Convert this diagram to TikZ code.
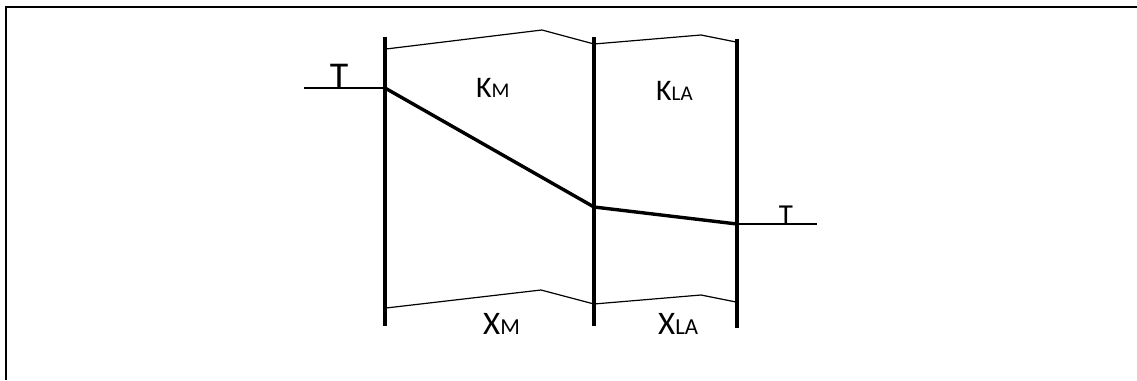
\documentclass[tikz,border=0pt]{standalone}
\usepackage{fontspec}
\setmainfont{Carlito}
\begin{document}
\begin{tikzpicture}[x=1bp,y=-1bp,
  frameline/.style={line width=2bp},
  wall/.style={line width=3.6bp},
  thinline/.style={line width=1.2bp},
  tline/.style={line width=2.4bp},
  curve/.style={line width=3.4bp, line join=round},
  lbl/.style={inner sep=0pt, anchor=base west},
  tlbl/.style={inner sep=0pt, anchor=base}]
\useasboundingbox (0,0) rectangle (1137,380);
% frame
\coordinate (fr) at (1137,7);
\coordinate (fc) at (6,7);
\coordinate (fb) at (6,380);
\draw[frameline] (fr) -- (fc) -- (fb);
% walls
\coordinate (w1t) at (385,37); \coordinate (w1b) at (385,326);
\coordinate (w2t) at (594,37); \coordinate (w2b) at (594,326);
\coordinate (w3t) at (737,39); \coordinate (w3b) at (737,328);
\draw[wall] (w1t) -- (w1b);
\draw[wall] (w2t) -- (w2b);
\draw[wall] (w3t) -- (w3b);
% top outline
\coordinate (t1) at (386,49); \coordinate (t2) at (542,30);
\coordinate (t3) at (594,44); \coordinate (t4) at (701,35);
\coordinate (t5) at (736,42);
\draw[thinline] (t1) -- (t2) -- (t3) -- (t4) -- (t5);
% bottom outline
\coordinate (b1) at (386,308); \coordinate (b2) at (541,290);
\coordinate (b3) at (594,304); \coordinate (b4) at (701,295);
\coordinate (b5) at (736,302);
\draw[thinline] (b1) -- (b2) -- (b3) -- (b4) -- (b5);
% temperature profile
\coordinate (ta) at (304,88);
\coordinate (p1) at (385,88);
\coordinate (p2) at (594,207);
\coordinate (p3) at (737,224);
\coordinate (tb) at (817,224);
\draw[tline] (ta) -- (p1);
\draw[curve] (p1) -- (p2) -- (p3);
\draw[tline] (p3) -- (tb);
% labels
\node[tlbl, font=\fontsize{38}{38}\selectfont] (tl) at (339,88) {T};
\node[tlbl, font=\fontsize{29}{29}\selectfont] (tr) at (786,224) {T};
\node[lbl] (km) at (476,97) {\fontsize{30}{30}\selectfont K\fontsize{21}{21}\selectfont M};
\node[lbl] (kla) at (656,100) {\fontsize{30}{30}\selectfont K\fontsize{21}{21}\selectfont LA};
\node[lbl] (xm) at (483,334) {\fontsize{33}{33}\selectfont X\fontsize{23}{23}\selectfont M};
\node[lbl] (xla) at (658,334) {\fontsize{33}{33}\selectfont X\fontsize{23}{23}\selectfont LA};
\end{tikzpicture}
\end{document}
